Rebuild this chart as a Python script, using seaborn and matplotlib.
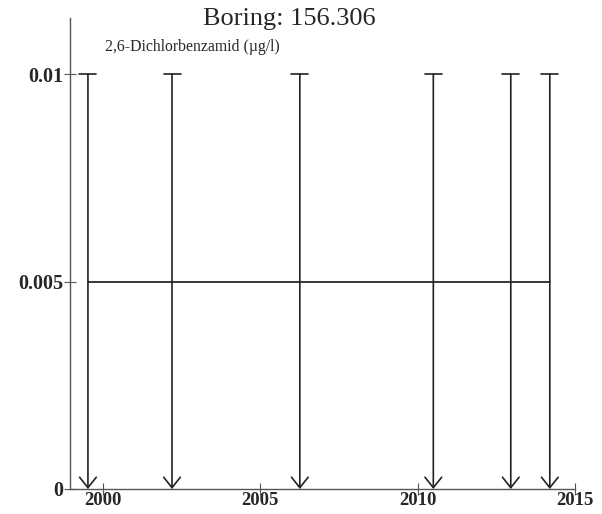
import matplotlib
matplotlib.use("Agg")
import matplotlib.pyplot as plt
import seaborn as sns
import pandas as pd

# sample dates (decimal years) and values (below detection limit 0.01 -> plotted at half)
dates = [1999.53, 2002.20, 2006.26, 2010.50, 2012.96, 2014.20]
values = [0.005, 0.005, 0.005, 0.005, 0.005, 0.005]
det_limit = [0.01, 0.01, 0.01, 0.01, 0.01, 0.01]
xticks = [2000, 2005, 2010, 2015]
yticks = [0, 0.005, 0.01]
ytick_labels = ["0", "0.005", "0.01"]

sns.set_style("white")
plt.rcParams["font.family"] = ["Liberation Serif", "DejaVu Serif"]

df = pd.DataFrame({"date": dates, "value": values})

fig = plt.figure(figsize=(6.02, 5.14), dpi=100)
ax = fig.add_axes([70 / 602, 25 / 514, 505 / 602, 471 / 514])

sns.lineplot(data=df, x="date", y="value", color="black", linewidth=1.1, ax=ax)

for d, lim in zip(dates, det_limit):
    ax.annotate("", xy=(d, 0), xytext=(d, lim),
                arrowprops=dict(arrowstyle="->,head_length=0.5,head_width=0.4",
                                color="#222222", lw=1.2, mutation_scale=15,
                                shrinkA=0, shrinkB=0))
    ax.plot([d - 0.27, d + 0.27], [lim, lim], color="#222222", lw=1.2)

ax.set_xlim(1998.96, 2015)
ax.set_ylim(0, 0.01135)
ax.set_xticks(xticks)
ax.set_yticks(yticks)
ax.set_yticklabels(ytick_labels)
ax.set_xlabel("")
ax.set_ylabel("")
for s in ["top", "right"]:
    ax.spines[s].set_visible(False)
for s in ["left", "bottom"]:
    ax.spines[s].set_color("#555555")
    ax.spines[s].set_linewidth(1.0)
ax.tick_params(axis="both", direction="inout", length=8, width=0.8, color="#555555",
               labelsize=14.5, pad=1, left=True, bottom=True)
ax.tick_params(axis="x", labelsize=13.5, pad=-2)
for lbl in ax.get_xticklabels() + ax.get_yticklabels():
    lbl.set_fontweight("bold")

fig.text(289 / 602, 1 - 19 / 514, "Boring: 156.306", ha="center", va="center", fontsize=19)
fig.text(105 / 602, 1 - 47 / 514, "2,6-Dichlorbenzamid (µg/l)", ha="left", va="center", fontsize=11.3)

fig.savefig("out.png", dpi=100)
